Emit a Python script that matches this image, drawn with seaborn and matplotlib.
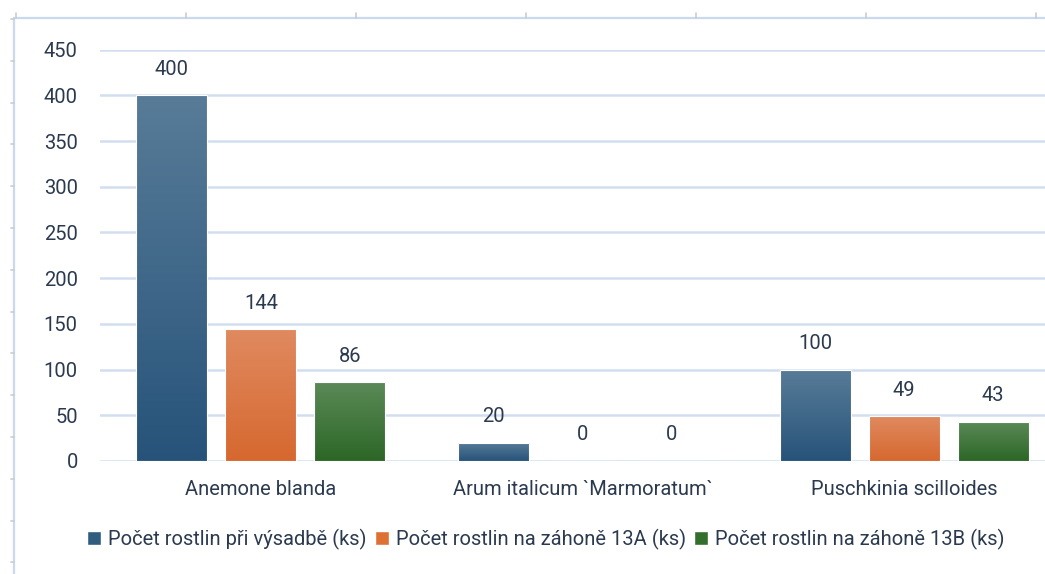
import numpy as np
import pandas as pd
import matplotlib
matplotlib.use("Agg")
import matplotlib.pyplot as plt
from matplotlib.colors import LinearSegmentedColormap
from matplotlib.lines import Line2D
from matplotlib.patches import Patch
import seaborn as sns

categories = ["Anemone blanda", "Arum italicum `Marmoratum`", "Puschkinia scilloides"]
series_names = ["Počet rostlin při výsadbě (ks)",
                "Počet rostlin na záhoně 13A (ks)",
                "Počet rostlin na záhoně 13B (ks)"]
values_vysadba = [400, 20, 100]
values_13a = [144, 0, 49]
values_13b = [86, 0, 43]
y_ticks = [0, 50, 100, 150, 200, 250, 300, 350, 400, 450]

base_colors = ["#2f5d80", "#dd7035", "#336f2c"]
top_colors = ["#587c98", "#e08a60", "#5b8a58"]
bottom_colors = ["#27537a", "#d6682f", "#2c6626"]
text_color = "#2b3a4f"
grid_color = "#d2def0"
FS = 14.5

df = pd.DataFrame({
    "category": categories * 3,
    "series": sum([[s] * 3 for s in series_names], []),
    "value": values_vysadba + values_13a + values_13b,
})

sns.set_theme(style="white")
plt.rcParams["font.family"] = ["Roboto", "DejaVu Sans"]

W, H = 1045, 574
fig = plt.figure(figsize=(W / 100, H / 100), dpi=100)
ax_left, ax_right, ax_top, ax_bottom = 100, 1045, 49.7, 461
ax = fig.add_axes([ax_left / W, 1 - ax_bottom / H, (ax_right - ax_left) / W, (ax_bottom - ax_top) / H])

sns.barplot(data=df, x="category", y="value", hue="series", order=categories,
            hue_order=series_names, palette=base_colors, width=0.83, gap=0.2,
            edgecolor="white", linewidth=0.8, ax=ax, legend=False, zorder=3)

ax.set_ylim(0, 450)
xlim = (-0.5, 2.5 - 20 / 321.5)
ax.set_xlim(*xlim)

# gradient fill on bars (lighter at top, darker at bottom)
for i, cont in enumerate(ax.containers):
    cmap = LinearSegmentedColormap.from_list("g%d" % i, [bottom_colors[i], top_colors[i]])
    grad = np.linspace(0, 1, 256).reshape(-1, 1)
    for p in cont.patches:
        x0, w, h = p.get_x(), p.get_width(), p.get_height()
        if h <= 0:
            continue
        im = ax.imshow(grad[::-1], cmap=cmap, extent=[x0, x0 + w, 0, h],
                       aspect="auto", origin="upper", zorder=3.5)
        im.set_clip_path(p)
        ax.add_patch(plt.Rectangle((x0, 0), w, h, fill=False, edgecolor="white",
                                   linewidth=0.8, zorder=3.6))
    ax.bar_label(cont, labels=[f"{int(v)}" for v in cont.datavalues], padding=12,
                 fontsize=FS, color=text_color)

ax.set_xlim(*xlim)
ax.set_ylim(0, 450)
ax.set_yticks(y_ticks)
ax.set_yticklabels([str(t) for t in y_ticks])
ax.yaxis.grid(True, color=grid_color, linewidth=1.8, zorder=0)
ax.set_axisbelow(True)
for s in ax.spines.values():
    s.set_visible(False)
ax.tick_params(axis="y", length=0, pad=16, labelsize=FS, labelcolor=text_color)
ax.tick_params(axis="x", length=0, pad=14, labelsize=FS, labelcolor=text_color)
ax.set_xlabel("")
ax.set_ylabel("")

# legend
handles = [Patch(facecolor=c, edgecolor="white") for c in base_colors]
fig.legend(handles, series_names, loc="center", bbox_to_anchor=(546 / W, 1 - 539 / H),
           ncol=3, frameon=False, fontsize=FS, labelcolor=text_color,
           handlelength=0.7, handleheight=0.7, handletextpad=0.35, columnspacing=0.4)

# outer frame lines with small ticks (top and left)
frame_color = "#c9d9ef"
fx, fy = 14, 18
fig.add_artist(Line2D([fx / W, 1], [1 - fy / H, 1 - fy / H], color=frame_color, lw=1.6,
                      transform=fig.transFigure))
fig.add_artist(Line2D([fx / W, fx / W], [0, 1 - fy / H], color=frame_color, lw=1.6,
                      transform=fig.transFigure))
tick_color = "#cccccc"
for tx in np.arange(16, W, 170):
    fig.add_artist(Line2D([tx / W, tx / W], [1 - fy / H, 1 - (fy - 5) / H], color=tick_color,
                          lw=1.2, transform=fig.transFigure))
for ty in np.arange(19, H, 41.8):
    fig.add_artist(Line2D([(fx - 3) / W, fx / W], [1 - ty / H, 1 - ty / H], color=tick_color,
                          lw=1.2, transform=fig.transFigure))

fig.savefig("out.png", dpi=100, facecolor="white")
